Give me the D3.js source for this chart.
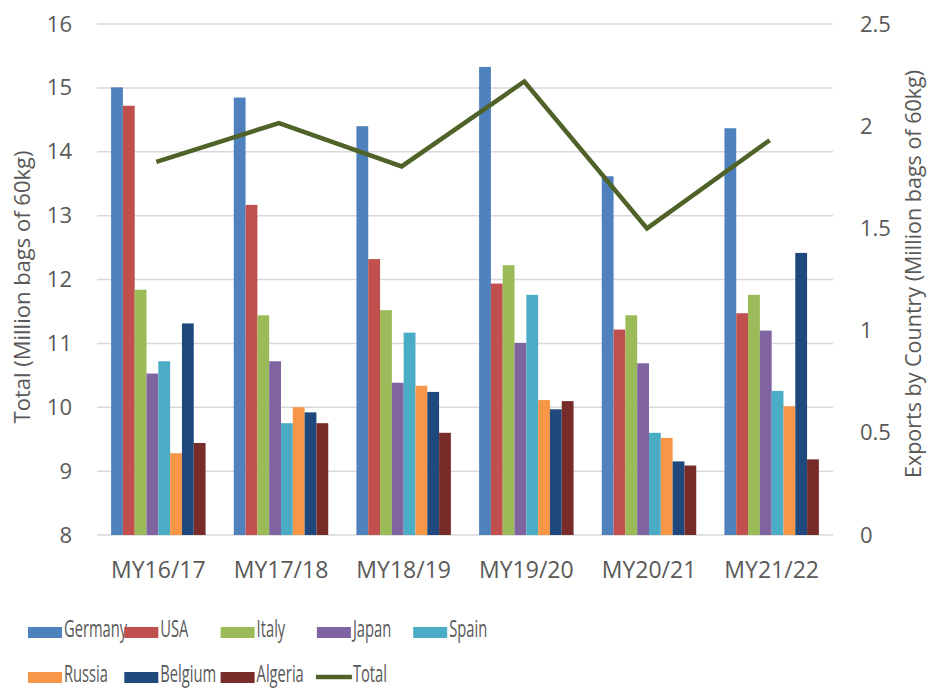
<!DOCTYPE html>
<html>
<head>
<meta charset="utf-8">
<script src="https://cdn.jsdelivr.net/npm/d3@7"></script>
<style>
  body { margin: 0; background: #fff; }
  text { fill: #595959; font-family: "Open Sans", sans-serif; }
</style>
</head>
<body>
<div id="chart"></div>
<script>
// marketing years
var years = ["MY16/17", "MY17/18", "MY18/19", "MY19/20", "MY20/21", "MY21/22"];

// exports by country, million bags of 60kg (right axis)
var countries = ["Germany", "USA", "Italy", "Japan", "Spain", "Russia", "Belgium", "Algeria"];
var germany = [2.19, 2.14, 2.00, 2.29, 1.755, 1.99];
var usa     = [2.10, 1.615, 1.35, 1.23, 1.005, 1.085];
var italy   = [1.20, 1.075, 1.10, 1.32, 1.075, 1.175];
var japan   = [0.79, 0.85, 0.745, 0.94, 0.84, 1.00];
var spain   = [0.85, 0.547, 0.99, 1.175, 0.50, 0.705];
var russia  = [0.40, 0.625, 0.73, 0.66, 0.475, 0.63];
var belgium = [1.035, 0.60, 0.70, 0.615, 0.36, 1.38];
var algeria = [0.45, 0.547, 0.50, 0.655, 0.34, 0.37];

// total, million bags of 60kg (left axis)
var total = [13.84, 14.45, 13.77, 15.10, 12.80, 14.18];

var leftTicks = [8, 9, 10, 11, 12, 13, 14, 15, 16];
var rightTicks = [0, 0.5, 1, 1.5, 2, 2.5];

var colors = ["#4f81bd", "#c0504d", "#9bbb59", "#8064a2", "#4bacc6", "#f79646", "#1f497d", "#772c2a"];
var totalColor = "#4f6228";

var series = [germany, usa, italy, japan, spain, russia, belgium, algeria];

var width = 929, height = 691;
var margin = {top: 24, right: 96, bottom: 156, left: 97};

var svg = d3.select("#chart").append("svg")
    .attr("width", width)
    .attr("height", height);

var x = d3.scaleBand()
    .domain(years)
    .range([margin.left, width - margin.right])
    .paddingInner(0.23)
    .paddingOuter(0.115);

var xSub = d3.scaleBand()
    .domain(countries)
    .range([0, x.bandwidth()]);

var yLeft = d3.scaleLinear()
    .domain([8, 16])
    .range([height - margin.bottom, margin.top]);

var yRight = d3.scaleLinear()
    .domain([0, 2.5])
    .range([height - margin.bottom, margin.top]);

// gridlines
svg.append("g")
    .selectAll("line")
    .data(leftTicks)
    .enter().append("line")
    .attr("x1", margin.left)
    .attr("x2", width - margin.right)
    .attr("y1", function(d) { return yLeft(d); })
    .attr("y2", function(d) { return yLeft(d); })
    .attr("stroke", "#d9d9d9")
    .attr("stroke-width", 1.5);

// left axis
var leftAxis = svg.append("g")
    .attr("transform", "translate(" + (margin.left - 25) + ",0)")
    .call(d3.axisLeft(yLeft).tickValues(leftTicks).tickSize(0).tickPadding(0));
leftAxis.select(".domain").remove();
leftAxis.selectAll("text").style("font-size", "22px");

// right axis
var rightAxis = svg.append("g")
    .attr("transform", "translate(" + (width - margin.right + 27) + ",0)")
    .call(d3.axisRight(yRight).tickValues(rightTicks).tickSize(0).tickPadding(0)
        .tickFormat(function(d) { return String(d); }));
rightAxis.select(".domain").remove();
rightAxis.selectAll("text").style("font-size", "22px");

// bottom axis
var bottomAxis = svg.append("g")
    .attr("transform", "translate(0," + (height - margin.bottom) + ")")
    .call(d3.axisBottom(x).tickSize(0).tickPadding(27));
bottomAxis.select(".domain").remove();
bottomAxis.selectAll("text").style("font-size", "23px");

// axis titles
svg.append("text")
    .attr("transform", "translate(22,287) rotate(-90)")
    .attr("text-anchor", "middle")
    .attr("dy", "0.35em")
    .style("font-size", "22px")
    .text("Total (Million bags of 60kg)");

svg.append("text")
    .attr("transform", "translate(913,274) rotate(-90)")
    .attr("text-anchor", "middle")
    .attr("dy", "0.35em")
    .style("font-size", "21.5px")
    .text("Exports by Country (Million bags of 60kg)");

// bars
var groups = svg.append("g")
    .selectAll("g")
    .data(years)
    .enter().append("g")
    .attr("transform", function(d) { return "translate(" + x(d) + ",0)"; });

groups.selectAll("rect")
    .data(function(d, i) {
        return countries.map(function(c, j) { return {country: c, value: series[j][i], color: colors[j]}; });
    })
    .enter().append("rect")
    .attr("x", function(d) { return xSub(d.country); })
    .attr("width", xSub.bandwidth())
    .attr("y", function(d) { return yRight(d.value); })
    .attr("height", function(d) { return yRight(0) - yRight(d.value); })
    .attr("fill", function(d) { return d.color; });

// total line
var line = d3.line()
    .x(function(d, i) { return x(years[i]) + x.bandwidth() / 2 - 2; })
    .y(function(d) { return yLeft(d); });

svg.append("path")
    .datum(total)
    .attr("d", line)
    .attr("fill", "none")
    .attr("stroke", totalColor)
    .attr("stroke-width", 4.5);

// legend
var legendItems = countries.map(function(c, j) { return {name: c, color: colors[j], type: "bar"}; });
legendItems.push({name: "Total", color: totalColor, type: "line"});

var legend = svg.append("g").attr("class", "legend");
var item = legend.selectAll("g")
    .data(legendItems)
    .enter().append("g")
    .attr("transform", function(d, i) {
        return "translate(" + (28 + (i % 5) * 96.3) + "," + (i < 5 ? 632 : 677) + ")";
    });

item.filter(function(d) { return d.type === "bar"; })
    .append("rect")
    .attr("x", 0)
    .attr("y", -5)
    .attr("width", 34)
    .attr("height", 11)
    .attr("fill", function(d) { return d.color; });

item.filter(function(d) { return d.type === "line"; })
    .append("line")
    .attr("x1", -1)
    .attr("x2", 35)
    .attr("stroke", function(d) { return d.color; })
    .attr("stroke-width", 4.5);

// legend font is narrow, squeeze horizontally
item.append("text")
    .attr("transform", "translate(36,0) scale(0.64,1)")
    .attr("y", 5)
    .style("font-size", "23px")
    .text(function(d) { return d.name; });
</script>
</body>
</html>
